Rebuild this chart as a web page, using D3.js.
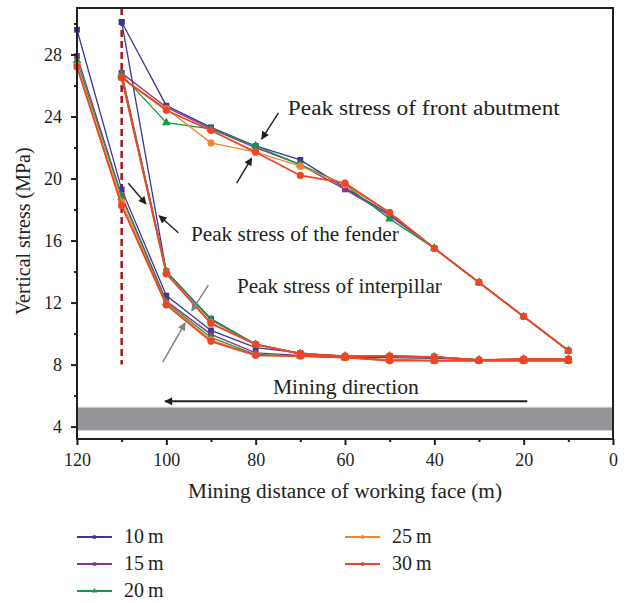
<!DOCTYPE html>
<meta charset="utf-8">
<style>
body { margin: 0; background: #fff; }
svg text { font-family: "Liberation Serif", "DejaVu Serif", serif; fill: #231f20; }
.note { font-size: 20px; }
</style>
<body>
<div id="chart"></div>
<script src="https://d3js.org/d3.v7.min.js"></script>
<script>
// mining distance (m)
var xsAll = [120, 110, 100, 90, 80, 70, 60, 50, 40, 30, 20, 10];
var xsFront = [110, 100, 90, 80, 70, 60, 50, 40, 30, 20, 10];

var names = ["10\u2009m", "15\u2009m", "20\u2009m", "25\u2009m", "30\u2009m"];
var colors = ["#3b3893", "#8d2f90", "#12994a", "#f4842a", "#ee4525"];
var shapes = ["square", "square", "triangle", "circle", "circle"];

// front abutment branch, x = 110..10
var front10 = [30.1, 24.7, 23.3, 22.1, 21.2, 19.4, 17.7, 15.5, 13.3, 11.1, 8.9];
var front15 = [26.8, 24.6, 23.2, 22.0, 20.9, 19.3, 17.6, 15.5, 13.3, 11.1, 8.9];
var front20 = [26.7, 23.6, 23.2, 22.1, 20.9, 19.6, 17.4, 15.5, 13.3, 11.1, 8.9];
var front25 = [26.5, 24.5, 22.3, 21.7, 20.8, 19.6, 17.8, 15.5, 13.3, 11.1, 8.9];
var front30 = [26.5, 24.4, 23.1, 21.7, 20.2, 19.7, 17.8, 15.5, 13.3, 11.1, 8.9];

// fender branch, x = 110..10
var fender10 = [30.1, 14.0, 10.95, 9.3, 8.7, 8.55, 8.55, 8.5, 8.3, 8.35, 8.35];
var fender15 = [26.8, 14.0, 10.9, 9.3, 8.7, 8.55, 8.55, 8.5, 8.3, 8.35, 8.35];
var fender20 = [26.7, 14.0, 10.9, 9.3, 8.7, 8.55, 8.55, 8.5, 8.3, 8.35, 8.35];
var fender25 = [26.5, 13.9, 10.7, 9.3, 8.7, 8.55, 8.55, 8.5, 8.3, 8.35, 8.35];
var fender30 = [26.5, 13.85, 10.65, 9.3, 8.7, 8.55, 8.55, 8.5, 8.3, 8.35, 8.35];

// interpillar branch, x = 120..10
var pillar10 = [29.6, 19.3, 12.45, 10.2, 9.1, 8.75, 8.5, 8.45, 8.4, 8.3, 8.3, 8.3];
var pillar15 = [27.9, 18.9, 12.1, 9.95, 8.75, 8.6, 8.45, 8.3, 8.25, 8.25, 8.25, 8.25];
var pillar20 = [27.6, 18.8, 12.0, 9.75, 8.65, 8.55, 8.45, 8.3, 8.25, 8.25, 8.25, 8.25];
var pillar25 = [27.3, 18.5, 11.9, 9.6, 8.6, 8.55, 8.45, 8.25, 8.25, 8.25, 8.25, 8.25];
var pillar30 = [27.2, 18.25, 11.85, 9.5, 8.6, 8.55, 8.45, 8.25, 8.25, 8.25, 8.25, 8.25];

var fronts = [front10, front15, front20, front25, front30];
var fenders = [fender10, fender15, fender20, fender25, fender30];
var pillars = [pillar10, pillar15, pillar20, pillar25, pillar30];

var xTicks = [120, 100, 80, 60, 40, 20, 0];
var xMinor = [110, 90, 70, 50, 30, 10];
var yTicks = [4, 8, 12, 16, 20, 24, 28];
var yMinor = [6, 10, 14, 18, 22, 26, 30];

var W = 630, H = 603;
var margin = {top: 8, right: 17, bottom: 164, left: 77};
var width = W - margin.left - margin.right;
var height = H - margin.top - margin.bottom;

var x = d3.scaleLinear().domain([120, 0]).range([0, width]);
var y = d3.scaleLinear().domain([3.2, 31]).range([height, 0]);

var svg = d3.select("#chart").append("svg")
    .attr("width", W).attr("height", H)
  .append("g")
    .attr("transform", "translate(" + [margin.left, margin.top] + ")");

// roadway band
svg.append("rect")
  .attr("x", 0).attr("width", width)
  .attr("y", y(5.25)).attr("height", y(3.75) - y(5.25))
  .attr("fill", "#939598").attr("stroke", "#d4d4d4").attr("stroke-width", 1);

// dashed boundary
svg.append("line")
  .attr("x1", x(110)).attr("x2", x(110))
  .attr("y1", 0).attr("y2", y(8))
  .attr("stroke", "#a3141c").attr("stroke-width", 2.5)
  .attr("stroke-dasharray", "7,4");

var line = d3.line().x(function (d) { return x(d[0]); }).y(function (d) { return y(d[1]); });

function zipPts(xs, vs) { return vs.map(function (v, i) { return [xs[i], v]; }); }

names.forEach(function (n, i) {
  var g = svg.append("g");
  var branches = [zipPts(xsAll, pillars[i]), zipPts(xsFront, fenders[i]), zipPts(xsFront, fronts[i])];
  branches.forEach(function (pts) {
    g.append("path").attr("d", line(pts))
      .attr("fill", "none").attr("stroke", colors[i])
      .attr("stroke-width", i === 4 ? 1.8 : 1.3);
  });
  var sym = shapes[i] === "square" ? d3.symbolSquare : shapes[i] === "triangle" ? d3.symbolTriangle : d3.symbolCircle;
  var size = shapes[i] === "circle" ? 40 : 34;
  var all = [].concat(branches[0], branches[1], branches[2]);
  g.selectAll("path.m").data(all).enter().append("path").attr("class", "m")
    .attr("d", d3.symbol().type(sym).size(size))
    .attr("transform", function (d) { return "translate(" + [x(d[0]), y(d[1])] + ")"; })
    .attr("fill", colors[i]);
});

// frame
svg.append("rect").attr("width", width).attr("height", height)
  .attr("fill", "none").attr("stroke", "#231f20").attr("stroke-width", 2);

// axes
svg.append("g").attr("transform", "translate(0," + height + ")")
  .call(d3.axisBottom(x).tickValues(xTicks).tickSize(6).tickPadding(8).tickFormat(d3.format("d")));
svg.append("g").attr("transform", "translate(0," + height + ")")
  .call(d3.axisBottom(x).tickValues(xMinor).tickSize(3).tickFormat(""));
svg.append("g")
  .call(d3.axisLeft(y).tickValues(yTicks).tickSize(6).tickPadding(9));
svg.append("g")
  .call(d3.axisLeft(y).tickValues(yMinor).tickSize(3).tickFormat(""));
svg.selectAll(".domain").remove();
svg.selectAll(".tick line").attr("stroke", "#231f20").attr("stroke-width", 2);
svg.selectAll(".tick text").attr("fill", "#231f20").attr("font-family", "Liberation Serif").attr("font-size", 18);

svg.append("text").attr("class", "note")
  .attr("x", width / 2).attr("y", height + 59)
  .attr("text-anchor", "middle")
  .attr("textLength", 314).attr("lengthAdjust", "spacingAndGlyphs")
  .text("Mining distance of working face (m)");
svg.append("text").attr("class", "note")
  .attr("transform", "translate(-47," + (y(16.6)) + ") rotate(-90)")
  .attr("text-anchor", "middle").text("Vertical stress (MPa)");

// arrows
var defs = svg.append("defs");
[["ah-black", "#231f20"], ["ah-gray", "#808080"]].forEach(function (a) {
  defs.append("marker").attr("id", a[0]).attr("viewBox", "0 0 10 10")
    .attr("refX", 9).attr("refY", 5).attr("markerWidth", 10).attr("markerHeight", 8)
    .attr("markerUnits", "userSpaceOnUse").attr("orient", "auto")
    .append("path").attr("d", "M0,0L10,5L0,10Z").attr("fill", a[1]);
});

var arrowsBlack = [
  [74.9, 24.23, 78.65, 22.55],
  [84.25, 19.7, 80.9, 21.32],
  [108.5, 19.7, 104.55, 18.36],
  [97.3, 16.5, 101.6, 17.6]
];
var arrowsGray = [
  [90.6, 13.12, 94.3, 11.46],
  [100.8, 8.16, 95.8, 10.68]
];
function drawArrows(list, color, id) {
  svg.selectAll(null).data(list).enter().append("line")
    .attr("x1", function (d) { return x(d[0]); }).attr("y1", function (d) { return y(d[1]); })
    .attr("x2", function (d) { return x(d[2]); }).attr("y2", function (d) { return y(d[3]); })
    .attr("stroke", color).attr("stroke-width", 1.4)
    .attr("marker-end", "url(#" + id + ")");
}
drawArrows(arrowsBlack, "#231f20", "ah-black");
drawArrows(arrowsGray, "#808080", "ah-gray");

// mining direction
svg.append("line")
  .attr("x1", x(19.2)).attr("x2", x(100.3))
  .attr("y1", y(5.63)).attr("y2", y(5.63))
  .attr("stroke", "#231f20").attr("stroke-width", 2)
  .attr("marker-end", "url(#ah-black)");

// label, x, y, anchor, width
var notes = [
  ["Peak stress of front abutment", 72.8, 24.1, "start", 272],
  ["Peak stress of the fender", 94.5, 15.97, "start", 208],
  ["Peak stress of interpillar", 84.2, 12.6, "start", 205],
  ["Mining direction", 59.8, 6.13, "middle", 146]
];
svg.selectAll("text.ann").data(notes).enter().append("text").attr("class", "note ann")
  .attr("x", function (d) { return x(d[1]); }).attr("y", function (d) { return y(d[2]); })
  .attr("text-anchor", function (d) { return d[3]; })
  .attr("textLength", function (d) { return d[4]; })
  .attr("lengthAdjust", "spacingAndGlyphs")
  .text(function (d) { return d[0]; });

// legend
var legendPos = [[0, 0], [0, 1], [0, 2], [1, 0], [1, 1]];
var lg = d3.select("svg").append("g");
names.forEach(function (n, i) {
  var lx = legendPos[i][0] === 0 ? 77 : 345;
  var ly = 537 + legendPos[i][1] * 27;
  lg.append("line").attr("x1", lx).attr("x2", lx + 35).attr("y1", ly).attr("y2", ly)
    .attr("stroke", colors[i]).attr("stroke-width", 2);
  var sym = shapes[i] === "square" ? d3.symbolSquare : shapes[i] === "triangle" ? d3.symbolTriangle : d3.symbolCircle;
  lg.append("path").attr("d", d3.symbol().type(sym).size(12)())
    .attr("transform", "translate(" + [lx + 17.5, ly] + ")").attr("fill", colors[i]);
  lg.append("text").attr("x", lx + 47).attr("y", ly + 6).attr("font-size", 20).text(n);
});
</script>
</body>
